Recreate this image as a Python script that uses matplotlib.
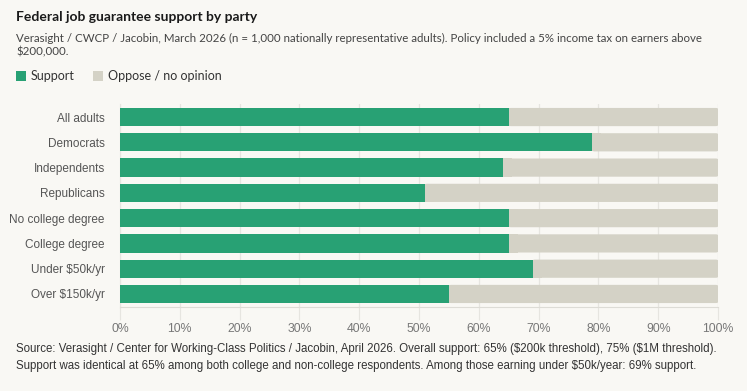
import matplotlib.pyplot as plt
from matplotlib.patches import Rectangle, FancyBboxPatch
from matplotlib.ticker import PercentFormatter

groups = ["All adults", "Democrats", "Independents", "Republicans",
          "No college degree", "College degree", "Under $50k/yr", "Over $150k/yr"]
support = [65, 79, 64, 51, 65, 65, 69, 55]
oppose = [100 - s for s in support]

GREEN = "#28a174"
GREY = "#d4d2c6"
BG = "#f9f8f4"
W, H = 747, 391

plt.rcParams["text.parse_math"] = False


def px(x, y):
    return x / W, 1 - y / H


fig = plt.figure(figsize=(W / 100, H / 100), dpi=100, facecolor=BG)
ax = fig.add_axes([120 / W, 1 - 306.6 / H, 598 / W, 202.2 / H], facecolor=BG)

ypos = list(range(len(groups)))
ax.barh(ypos, support, height=0.72, color=GREEN, zorder=3)
# grey remainder with a slightly rounded right end
for y, s, o in zip(ypos, support, oppose):
    ax.add_patch(FancyBboxPatch((s, y - 0.36), o, 0.72,
                                boxstyle="round,pad=0,rounding_size=0.4",
                                mutation_aspect=0.09, fc=GREY, ec="none", zorder=2))
    ax.add_patch(Rectangle((s, y - 0.36), min(o, 1.5), 0.72, fc=GREY, ec="none", zorder=2))

ax.set_xlim(0, 100)
ax.set_ylim(len(groups) - 0.5, -0.5)
ax.set_yticks(ypos)
ax.set_yticklabels(groups, fontsize=8.5, color="#555555", family="Liberation Sans")
ax.set_xticks(range(0, 101, 10))
ax.xaxis.set_major_formatter(PercentFormatter(decimals=0))
for lab in ax.get_xticklabels():
    lab.set_family("Liberation Sans")
ax.tick_params(axis="x", length=9, color="#e6e5e0", labelsize=8.8, labelcolor="#777777", pad=3)
ax.tick_params(axis="y", length=0, pad=11)
ax.grid(axis="x", color="#e6e5e0", linewidth=0.9, zorder=0)
for side in ["top", "right"]:
    ax.spines[side].set_visible(False)
ax.spines["bottom"].set_color("#dddcd6")
ax.spines["left"].set_color("#e6e5e0")

fig.text(*px(16, 17), "Federal job guarantee support by party", fontsize=10,
         fontweight="bold", family="Lato", color="#1a1a1a", va="center")
fig.text(*px(16, 38), "Verasight / CWCP / Jacobin, March 2026 (n = 1,000 nationally representative adults). "
         "Policy included a 5% income tax on earners above", fontsize=8.3, family="Lato",
         color="#444444", va="center")
fig.text(*px(16, 52), "$200,000.", fontsize=8.3, family="Lato", color="#444444", va="center")

fig.patches.append(Rectangle(px(16, 81), 10 / W, 10 / H, transform=fig.transFigure,
                             fc=GREEN, ec="none"))
fig.text(*px(31, 76), "Support", fontsize=9, family="Lato", color="#333333", va="center")
fig.patches.append(Rectangle(px(93, 81), 10 / W, 10 / H, transform=fig.transFigure,
                             fc=GREY, ec="none"))
fig.text(*px(108, 76), "Oppose / no opinion", fontsize=9, family="Lato", color="#333333",
         va="center")

fig.text(*px(16, 349), "Source: Verasight / Center for Working-Class Politics / Jacobin, April 2026. "
         "Overall support: 65% ($200k threshold), 75% ($1M threshold).", fontsize=8.3,
         family="Liberation Sans", color="#333333", va="center")
fig.text(*px(16, 366), "Support was identical at 65% among both college and non-college respondents. "
         "Among those earning under $50k/year: 69% support.", fontsize=8.3,
         family="Liberation Sans", color="#333333", va="center")

fig.savefig("out.png", dpi=100, facecolor=BG)
